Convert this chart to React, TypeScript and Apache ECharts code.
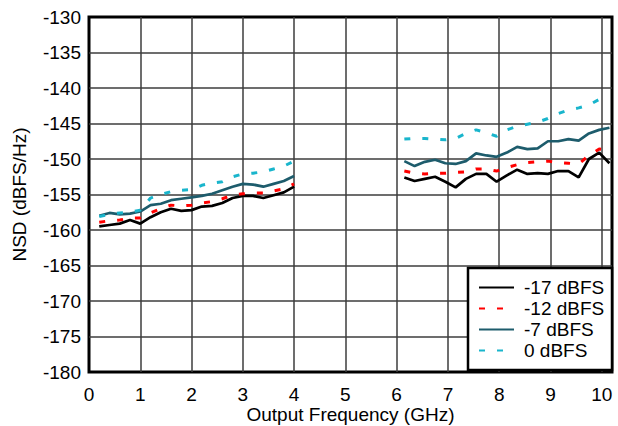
import React, { useEffect, useRef } from "react";
import * as echarts from "echarts";

// Output frequency (GHz) for the two measured bands
const freqLow = [0.2, 0.4, 0.6, 0.8, 1.0, 1.2, 1.4, 1.6, 1.8, 2.0, 2.2, 2.4, 2.6, 2.8, 3.0, 3.2, 3.4, 3.6, 3.8, 4.0];
const freqHigh = [6.15, 6.35, 6.55, 6.75, 6.95, 7.15, 7.35, 7.55, 7.75, 7.95, 8.15, 8.35, 8.55, 8.75, 8.95, 9.15, 9.35, 9.55, 9.75, 9.95, 10.15];

// NSD (dBFS/Hz)
const m17Low = [-159.5, -159.3, -159.1, -158.6, -159.1, -158.2, -157.5, -157.0, -157.3, -157.2, -156.7, -156.6, -156.2, -155.5, -155.2, -155.2, -155.5, -155.1, -154.7, -153.9];
const m17High = [-152.6, -153.1, -152.8, -152.5, -153.2, -154.0, -152.8, -152.1, -152.1, -153.2, -152.3, -151.5, -152.1, -152.0, -152.1, -151.7, -151.7, -152.6, -150.0, -149.1, -150.6];

const m12Low = [-158.9, -158.7, -158.6, -158.3, -158.3, -157.6, -157.0, -156.5, -156.6, -156.5, -156.2, -156.0, -155.6, -155.1, -154.9, -154.8, -154.8, -154.5, -154.2, -153.5];
const m12High = [-151.7, -152.0, -152.1, -152.0, -152.0, -151.9, -151.8, -151.4, -151.4, -151.7, -151.2, -150.8, -150.5, -150.4, -150.3, -150.5, -150.6, -150.7, -149.5, -148.6, -148.8];

const m7Low = [-158.0, -157.6, -157.8, -157.7, -157.4, -156.5, -156.3, -155.8, -155.6, -155.4, -155.2, -154.9, -154.4, -153.9, -153.5, -153.6, -153.9, -153.5, -153.1, -152.4];
const m7High = [-150.3, -151.0, -150.4, -150.1, -150.6, -150.7, -150.3, -149.2, -149.5, -149.7, -149.1, -148.3, -148.6, -148.5, -147.5, -147.5, -147.2, -147.4, -146.4, -145.9, -145.6];

const z0Low = [-158.1, -157.8, -157.6, -157.5, -157.2, -155.5, -155.0, -154.6, -154.4, -154.3, -153.7, -153.4, -153.2, -152.5, -152.1, -152.0, -151.8, -151.4, -151.0, -150.3];
const z0High = [-147.2, -147.1, -147.1, -147.2, -147.3, -147.1, -146.4, -145.9, -146.3, -146.8, -145.9, -145.4, -145.1, -144.8, -144.3, -143.6, -143.1, -142.8, -142.4, -141.6, -141.2];

const seriesNames = ["-17 dBFS", "-12 dBFS", "-7 dBFS", "0 dBFS"];
const yTicks = { min: -180, max: -130, step: 5 };
const xTicks = { min: 0, max: 10.2, step: 1 };

const FONT = "'Liberation Sans', Arial, sans-serif";

function join(low: number[], high: number[]) {
  const out: any[] = low.map((v, i) => [freqLow[i], v]);
  out.push([5, "-"]);
  high.forEach((v, i) => out.push([freqHigh[i], v]));
  return out;
}

export default function App() {
  const ref = useRef<HTMLDivElement>(null);
  useEffect(() => {
    if (!ref.current) return;
    const chart = echarts.init(ref.current, undefined, { renderer: "svg" });
    const styles = [
      { color: "#000000", type: "solid", width: 2.7 },
      { color: "#ff0000", type: [6, 12], width: 3 },
      { color: "#1d5c6c", type: "solid", width: 2.7 },
      { color: "#19b5cc", type: [6, 12], width: 3 },
    ];
    const datasets = [
      join(m17Low, m17High),
      join(m12Low, m12High),
      join(m7Low, m7High),
      join(z0Low, z0High),
    ];
    chart.setOption({
      animation: false,
      grid: {
        left: 89,
        right: 6,
        top: 17,
        bottom: 54,
        show: true,
        borderColor: "#000",
        borderWidth: 3,
        backgroundColor: "transparent",
        containLabel: false,
        outerBoundsMode: "none",
      },
      xAxis: {
        type: "value",
        min: xTicks.min,
        max: xTicks.max,
        interval: xTicks.step,
        name: "Output Frequency (GHz)",
        nameLocation: "middle",
        nameGap: 33,
        nameMoveOverlap: false,
        nameTextStyle: { fontFamily: FONT, fontSize: 19, color: "#000" },
        axisLine: { show: false },
        axisTick: { show: false },
        axisLabel: {
          fontFamily: FONT,
          fontSize: 19,
          color: "#000",
          margin: 13,
          showMaxLabel: false,
        },
        splitLine: {
          show: true,
          showMinLine: false,
          showMaxLine: false,
          lineStyle: { color: "#3c3c3c", width: 1.5 },
        },
      },
      yAxis: {
        type: "value",
        min: yTicks.min,
        max: yTicks.max,
        interval: yTicks.step,
        name: "NSD (dBFS/Hz)",
        nameLocation: "middle",
        nameGap: 60,
        nameMoveOverlap: false,
        nameTextStyle: { fontFamily: FONT, fontSize: 19, color: "#000" },
        axisLine: { show: false },
        axisTick: { show: false },
        axisLabel: { fontFamily: FONT, fontSize: 19, color: "#000", margin: 8 },
        splitLine: {
          show: true,
          showMinLine: false,
          showMaxLine: false,
          lineStyle: { color: "#3c3c3c", width: 1.5 },
        },
      },
      graphic: [
        {
          type: "rect",
          z: 10,
          shape: { x: 468, y: 268, width: 144, height: 102 },
          style: { fill: "#fff", stroke: "#000", lineWidth: 2.5 },
        },
      ],
      legend: {
        z: 20,
        orient: "vertical",
        left: 478,
        top: 278,
        padding: 0,
        itemWidth: 35,
        itemHeight: 14,
        itemGap: 2,
        textStyle: { fontFamily: FONT, fontSize: 19, color: "#000", padding: [0, 0, 0, 5] },
        itemStyle: {
          color: "rgba(0,0,0,0)",
          borderColor: "rgba(0,0,0,0)",
          borderWidth: 0,
        },
        data: seriesNames,
      },
      series: seriesNames.map((n, i) => ({
        name: n,
        type: "line",
        data: datasets[i],
        symbol: "none",
        connectNulls: false,
        z: 5,
        color: styles[i].color,
        itemStyle: { color: styles[i].color },
        lineStyle: { color: styles[i].color, width: styles[i].width, type: styles[i].type },
      })),
    });
    return () => chart.dispose();
  }, []);
  return (
    <div
      ref={ref}
      style={{ position: "fixed", left: 0, top: 0, width: 618, height: 426, background: "#fff" }}
    />
  );
}
